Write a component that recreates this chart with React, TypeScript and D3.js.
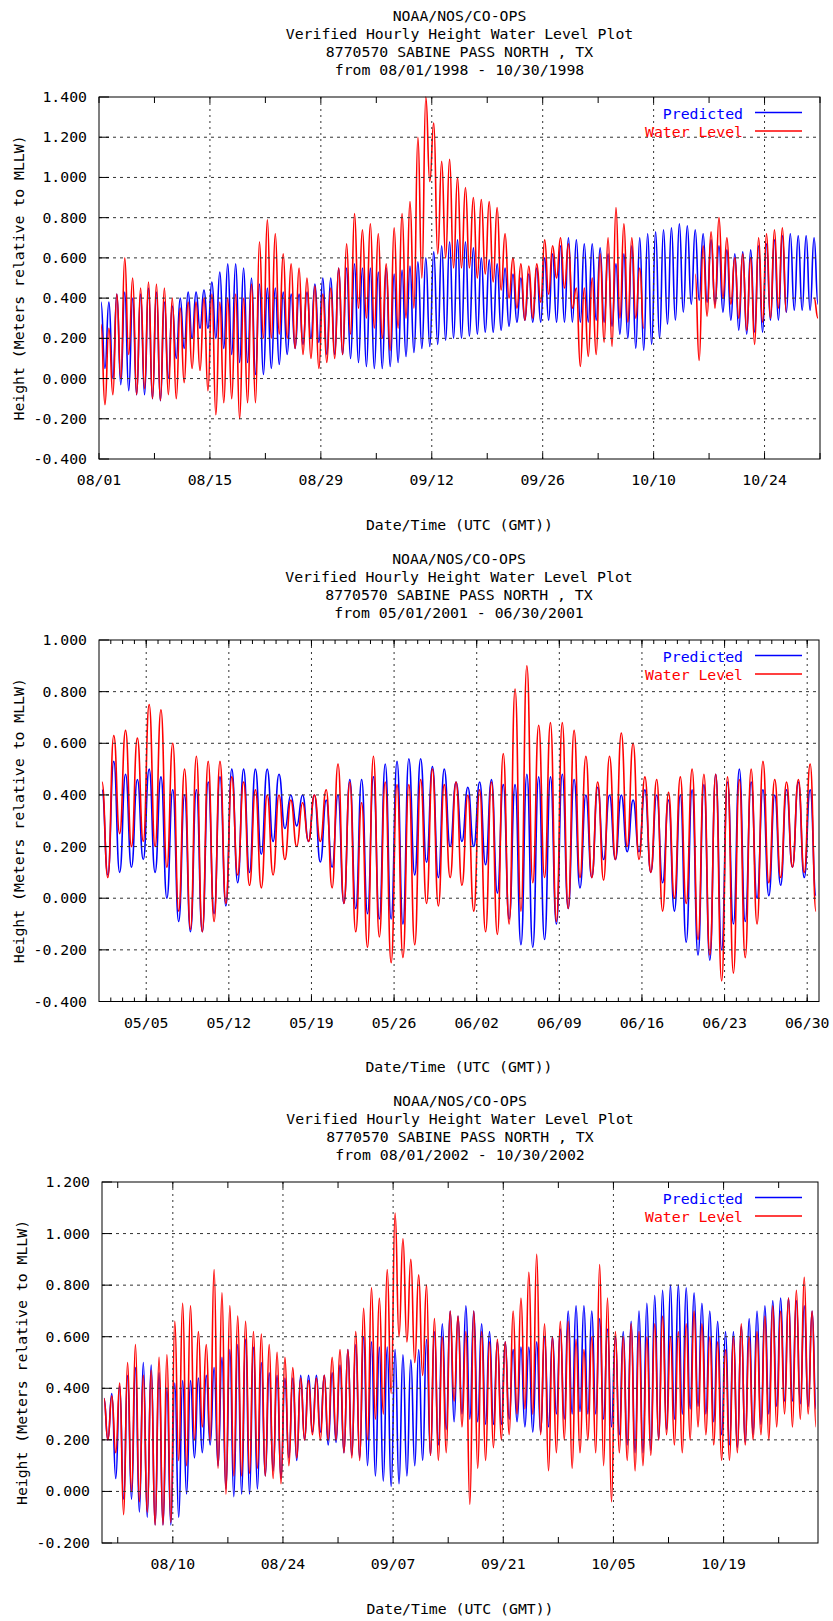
import React from "react";
import * as d3 from "d3";

const W = 833;
const H = 1621;
const FONT = "'DejaVu Sans Mono', 'Liberation Mono', monospace";
const FS = 14.8;
const BLUE = "#0000ff";
const RED = "#ff0000";

// ---------------- Chart 1 : 08/01/1998 - 10/30/1998 (daily high / low, meters) ----------------
const c1Dates = "from 08/01/1998 - 10/30/1998";
const p1Hi = [
  0.38, 0.38, 0.42, 0.43, 0.40, 0.42, 0.45, 0.43, 0.38, 0.36,
  0.40, 0.43, 0.43, 0.44, 0.48, 0.53, 0.57, 0.57, 0.55, 0.50,
  0.47, 0.45, 0.45, 0.43, 0.42, 0.42, 0.43, 0.47, 0.50, 0.50,
  0.55, 0.55, 0.57, 0.55, 0.55, 0.53, 0.55, 0.52, 0.54, 0.56,
  0.58, 0.60, 0.63, 0.66, 0.68, 0.69, 0.68, 0.65, 0.60, 0.59,
  0.57, 0.55, 0.52, 0.50, 0.52, 0.55, 0.60, 0.62, 0.66, 0.70,
  0.69, 0.67, 0.67, 0.65, 0.62, 0.57, 0.62, 0.66, 0.70, 0.72,
  0.73, 0.74, 0.75, 0.77, 0.76, 0.74, 0.72, 0.69, 0.66, 0.64,
  0.62, 0.63, 0.64, 0.66, 0.67, 0.69, 0.71, 0.72, 0.71, 0.71,
  0.70,
];
const p1Lo = [
  0.05, 0.00, -0.03, -0.06, -0.08, -0.08, -0.10, -0.11, 0.00, 0.10,
  0.15, 0.20, 0.25, 0.25, 0.20, 0.15, 0.12, 0.08, 0.08, 0.02,
  0.02, 0.05, 0.07, 0.12, 0.15, 0.17, 0.20, 0.18, 0.12, 0.12,
  0.12, 0.10, 0.08, 0.06, 0.05, 0.05, 0.06, 0.08, 0.11, 0.13,
  0.15, 0.16, 0.17, 0.19, 0.20, 0.20, 0.21, 0.22, 0.23, 0.23,
  0.24, 0.26, 0.28, 0.29, 0.28, 0.28, 0.29, 0.28, 0.28, 0.28,
  0.28, 0.28, 0.29, 0.28, 0.26, 0.22, 0.20, 0.15, 0.14, 0.17,
  0.20, 0.27, 0.29, 0.33, 0.37, 0.39, 0.38, 0.37, 0.33, 0.29,
  0.24, 0.22, 0.23, 0.23, 0.29, 0.29, 0.33, 0.34, 0.34, 0.34,
  0.37,
];
const w1Hi = [
  0.27, 0.25, 0.42, 0.60, 0.50, 0.45, 0.48, 0.47, 0.45, 0.40,
  0.35, 0.38, 0.38, 0.40, 0.42, 0.38, 0.40, 0.42, 0.40, 0.47,
  0.68, 0.79, 0.72, 0.62, 0.57, 0.55, 0.50, 0.46, 0.42, 0.45,
  0.55, 0.67, 0.82, 0.74, 0.77, 0.72, 0.57, 0.75, 0.82, 0.88,
  1.20, 1.40, 1.27, 1.08, 1.09, 1.00, 0.95, 0.90, 0.89, 0.88,
  0.85, 0.72, 0.60, 0.57, 0.56, 0.57, 0.69, 0.66, 0.70, 0.67,
  0.45, 0.45, 0.50, 0.62, 0.70, 0.85, 0.77, 0.70, 0.55, null,
  null, null, null, null, null, 0.52, 0.66, 0.73, 0.80, 0.70,
  0.60, 0.62, 0.60, 0.70, 0.72, 0.74, 0.75, null, null, null,
  0.40,
];
const w1Lo = [
  -0.13, -0.08, 0.00, 0.12, -0.08, -0.05, -0.10, -0.11, -0.08, -0.10,
  -0.02, 0.05, 0.04, -0.06, -0.18, -0.12, -0.10, -0.20, -0.12, -0.12,
  0.20, 0.20, 0.22, 0.20, 0.15, 0.12, 0.10, 0.05, 0.08, 0.10,
  0.12, 0.22, 0.35, 0.30, 0.25, 0.20, 0.14, 0.25, 0.30, 0.35,
  0.50, 0.98, 0.62, 0.60, 0.55, 0.55, 0.55, 0.50, 0.52, 0.48,
  0.44, 0.40, 0.35, 0.29, 0.30, 0.38, 0.42, 0.50, 0.45, 0.35,
  0.06, 0.11, 0.12, 0.18, 0.16, 0.30, 0.28, 0.30, 0.25, null,
  null, null, null, null, null, 0.09, 0.31, 0.35, 0.40, 0.37,
  0.30, 0.24, 0.17, 0.28, 0.30, 0.35, 0.33, null, null, null,
  0.30,
];

// ---------------- Chart 2 : 05/01/2001 - 06/30/2001 ----------------
const c2Dates = "from 05/01/2001 - 06/30/2001";
const p2Hi = [
  0.42, 0.53, 0.48, 0.46, 0.50, 0.47, 0.42, 0.40, 0.42, 0.45,
  0.47, 0.50, 0.50, 0.50, 0.50, 0.48, 0.40, 0.40, 0.40, 0.38,
  0.40, 0.46, 0.46, 0.47, 0.52, 0.53, 0.54, 0.54, 0.51, 0.50,
  0.45, 0.43, 0.45, 0.46, 0.44, 0.44, 0.48, 0.47, 0.47, 0.48,
  0.46, 0.40, 0.43, 0.40, 0.40, 0.38, 0.42, 0.40, 0.38, 0.40,
  0.42, 0.44, 0.48, 0.45, 0.50, 0.45, 0.42, 0.40, 0.42, 0.45,
  0.42,
];
const p2Lo = [
  0.09, 0.10, 0.12, 0.15, 0.10, 0.00, -0.09, -0.13, -0.13, -0.06,
  -0.03, 0.06, 0.10, 0.17, 0.22, 0.27, 0.28, 0.22, 0.14, 0.12,
  -0.02, -0.04, -0.06, -0.08, -0.08, -0.10, 0.09, 0.14, 0.08, 0.20,
  0.22, 0.20, 0.13, 0.02, -0.08, -0.18, -0.19, -0.16, -0.10, -0.04,
  0.04, 0.08, 0.15, 0.15, 0.18, 0.18, 0.10, 0.06, -0.05, -0.17,
  -0.22, -0.24, -0.20, -0.10, -0.09, 0.00, 0.01, 0.05, 0.12, 0.08,
  0.01,
];
const w2Hi = [
  0.45, 0.63, 0.65, 0.62, 0.75, 0.73, 0.60, 0.50, 0.55, 0.53,
  0.53, 0.47, 0.45, 0.42, 0.40, 0.40, 0.38, 0.37, 0.40, 0.42,
  0.52, 0.45, 0.37, 0.55, 0.45, 0.44, 0.44, 0.46, 0.50, 0.44,
  0.45, 0.40, 0.42, 0.45, 0.56, 0.81, 0.90, 0.67, 0.68, 0.68,
  0.65, 0.55, 0.45, 0.55, 0.64, 0.60, 0.47, 0.46, 0.41, 0.47,
  0.50, 0.48, 0.48, 0.47, 0.46, 0.50, 0.53, 0.46, 0.45, 0.46,
  0.52,
];
const w2Lo = [
  0.08, 0.25, 0.20, 0.22, 0.20, 0.12, -0.05, -0.12, -0.13, -0.09,
  -0.02, 0.09, 0.05, 0.04, 0.09, 0.15, 0.20, 0.22, 0.22, 0.04,
  -0.02, -0.13, -0.19, -0.15, -0.25, -0.23, -0.18, -0.02, -0.03, 0.08,
  0.05, -0.05, -0.13, -0.14, -0.10, -0.05, 0.06, 0.08, -0.09, -0.04,
  0.08, 0.08, 0.07, 0.15, 0.20, 0.15, 0.10, -0.05, 0.00, -0.02,
  -0.16, -0.22, -0.32, -0.29, -0.23, -0.10, 0.06, 0.08, 0.12, 0.10,
  -0.05,
];

// ---------------- Chart 3 : 08/01/2002 - 10/30/2002 ----------------
const c3Dates = "from 08/01/2002 - 10/30/2002";
const p3Hi = [
  0.36, 0.38, 0.41, 0.45, 0.48, 0.50, 0.49, 0.46, 0.40, 0.42,
  0.43, 0.43, 0.44, 0.45, 0.48, 0.52, 0.55, 0.57, 0.59, 0.56,
  0.50, 0.46, 0.45, 0.44, 0.44, 0.45, 0.45, 0.45, 0.45, 0.46,
  0.49, 0.55, 0.57, 0.60, 0.58, 0.56, 0.56, 0.55, 0.53, 0.51,
  0.55, 0.59, 0.62, 0.65, 0.70, 0.68, 0.72, 0.70, 0.65, 0.62,
  0.58, 0.58, 0.55, 0.56, 0.56, 0.58, 0.60, 0.60, 0.63, 0.70,
  0.72, 0.72, 0.70, 0.67, 0.63, 0.60, 0.62, 0.66, 0.70, 0.73,
  0.76, 0.78, 0.80, 0.80, 0.79, 0.77, 0.73, 0.70, 0.66, 0.62,
  0.62, 0.64, 0.67, 0.70, 0.72, 0.74, 0.75, 0.75, 0.74, 0.72,
  0.70,
];
const p3Lo = [
  0.20, 0.05, -0.03, -0.03, -0.08, -0.10, -0.13, -0.13, -0.13, -0.10,
  -0.01, 0.13, 0.15, 0.18, 0.10, 0.01, -0.02, -0.01, -0.01, 0.01,
  0.06, 0.08, 0.05, 0.13, 0.12, 0.20, 0.23, 0.23, 0.18, 0.19,
  0.15, 0.14, 0.13, 0.10, 0.06, 0.04, 0.02, 0.03, 0.06, 0.10,
  0.12, 0.14, 0.18, 0.24, 0.27, 0.30, 0.28, 0.27, 0.26, 0.26,
  0.26, 0.28, 0.27, 0.25, 0.23, 0.23, 0.25, 0.30, 0.28, 0.30,
  0.31, 0.30, 0.30, 0.28, 0.25, 0.22, 0.18, 0.15, 0.15, 0.16,
  0.20, 0.24, 0.28, 0.30, 0.32, 0.33, 0.30, 0.27, 0.22, 0.18,
  0.17, 0.19, 0.22, 0.26, 0.30, 0.33, 0.35, 0.35, 0.34, 0.33,
  0.32,
];
const w3Hi = [
  0.36, 0.37, 0.42, 0.50, 0.57, 0.45, 0.47, 0.52, 0.53, 0.66,
  0.73, 0.72, 0.62, 0.57, 0.86, 0.77, 0.72, 0.68, 0.66, 0.62,
  0.61, 0.57, 0.54, 0.52, 0.48, 0.44, 0.43, 0.44, 0.45, 0.52,
  0.55, 0.55, 0.62, 0.71, 0.79, 0.75, 0.86, 1.08, 0.98, 0.90,
  0.84, 0.80, 0.67, 0.60, 0.70, 0.68, 0.62, 0.70, 0.62, 0.58,
  0.59, 0.58, 0.70, 0.75, 0.85, 0.92, 0.65, 0.60, 0.66, 0.66,
  0.59, 0.55, 0.60, 0.88, 0.75, 0.62, 0.60, 0.65, 0.62, 0.60,
  0.65, 0.68, 0.60, 0.62, 0.65, 0.70, 0.65, 0.60, 0.58, 0.55,
  0.60, 0.65, 0.60, 0.62, 0.68, 0.72, 0.70, 0.75, 0.78, 0.83,
  0.70,
];
const w3Lo = [
  0.20, 0.15, -0.09, 0.00, -0.04, -0.08, -0.13, -0.13, -0.12, 0.12,
  0.10, 0.20, 0.25, 0.20, 0.09, -0.01, 0.06, 0.06, 0.07, 0.09,
  0.06, 0.05, 0.03, 0.10, 0.13, 0.20, 0.22, 0.20, 0.20, 0.20,
  0.15, 0.13, 0.12, 0.20, 0.28, 0.30, 0.38, 0.60, 0.58, 0.50,
  0.45, 0.14, 0.12, 0.15, 0.35, 0.25, -0.05, 0.09, 0.12, 0.17,
  0.20, 0.22, 0.30, 0.32, 0.30, 0.22, 0.08, 0.15, 0.20, 0.09,
  0.15, 0.20, 0.15, 0.10, -0.04, 0.15, 0.12, 0.08, 0.10, 0.14,
  0.20, 0.22, 0.18, 0.15, 0.20, 0.25, 0.22, 0.18, 0.12, 0.12,
  0.15, 0.18, 0.20, 0.22, 0.20, 0.25, 0.30, 0.25, 0.28, 0.30,
  0.25,
];

const titleLines = [
  "NOAA/NOS/CO-OPS",
  "Verified Hourly Height Water Level Plot",
  "8770570 SABINE PASS NORTH , TX",
];
const yTitle = "Height (Meters relative to MLLW)";
const xTitle = "Date/Time (UTC (GMT))";
const legendNames = ["Predicted", "Water Level"];

type Pt = { t: Date; v: number | null };

interface PanelCfg {
  id: string;
  dates: string;
  start: Date;
  days: number;
  yMin: number;
  yMax: number;
  left: number;
  right: number;
  top: number;
  bottom: number;
  labelStart: number;
  labelStep: number;
  tickStart: number;
  tickStep: number;
  minorDaily: boolean;
  pHi: (number | null)[];
  pLo: (number | null)[];
  wHi: (number | null)[];
  wLo: (number | null)[];
}

const panels: PanelCfg[] = [
  {
    id: "c1", dates: c1Dates, start: new Date(Date.UTC(1998, 7, 1)), days: 91,
    yMin: -0.4, yMax: 1.4, left: 99, right: 820, top: 97, bottom: 459,
    labelStart: 0, labelStep: 14, tickStart: 0, tickStep: 7, minorDaily: false,
    pHi: p1Hi, pLo: p1Lo, wHi: w1Hi, wLo: w1Lo,
  },
  {
    id: "c2", dates: c2Dates, start: new Date(Date.UTC(2001, 4, 1)), days: 61,
    yMin: -0.4, yMax: 1.0, left: 99, right: 819, top: 640, bottom: 1001.5,
    labelStart: 4, labelStep: 7, tickStart: 4, tickStep: 7, minorDaily: true,
    pHi: p2Hi, pLo: p2Lo, wHi: w2Hi, wLo: w2Lo,
  },
  {
    id: "c3", dates: c3Dates, start: new Date(Date.UTC(2002, 7, 1)), days: 91,
    yMin: -0.2, yMax: 1.2, left: 102, right: 818, top: 1182, bottom: 1543,
    labelStart: 9, labelStep: 14, tickStart: 2, tickStep: 7, minorDaily: false,
    pHi: p3Hi, pLo: p3Lo, wHi: w3Hi, wLo: w3Lo,
  },
];

function buildPoints(start: Date, hi: (number | null)[], lo: (number | null)[]): Pt[] {
  const pts: Pt[] = [];
  hi.forEach((h, i) => {
    pts.push({ t: d3.utcHour.offset(start, i * 24 + 6), v: h });
    pts.push({ t: d3.utcHour.offset(start, i * 24 + 18), v: lo[i] });
  });
  return pts;
}

const fmtDate = d3.utcFormat("%m/%d");
const fmtY = (v: number) => {
  const r = Math.round(v * 1000) / 1000;
  return (Math.abs(r) < 1e-9 ? 0 : r).toFixed(3);
};

function Panel({ p }: { p: PanelCfg }) {
  const end = d3.utcDay.offset(p.start, p.days);
  const x = d3.scaleUtc().domain([p.start, end]).range([p.left, p.right]);
  const y = d3.scaleLinear().domain([p.yMin, p.yMax]).range([p.bottom, p.top]);
  const line = d3
    .line<Pt>()
    .defined((d) => d.v != null)
    .curve(d3.curveBumpX)
    .x((d) => x(d.t))
    .y((d) => y(d.v as number));

  const nY = Math.round((p.yMax - p.yMin) / 0.2);
  const yTicks = d3.range(nY + 1).map((i) => Math.round((p.yMin + i * 0.2) * 1000) / 1000);

  const labelDays = d3.range(p.labelStart, p.days + 0.001, p.labelStep);
  const tickDays = d3.range(p.tickStart, p.days + 0.001, p.tickStep);
  const minorDays = p.minorDaily ? d3.range(1, p.days) : [];

  const cx = (p.left + p.right) / 2;
  const cy = (p.top + p.bottom) / 2;
  const pPts = buildPoints(p.start, p.pHi, p.pLo);
  const wPts = buildPoints(p.start, p.wHi, p.wLo);
  const dx = (day: number) => x(d3.utcDay.offset(p.start, day));

  const textStyle = { fontFamily: FONT, fontSize: FS, fill: "#000" } as const;

  return (
    <g>
      <defs>
        <clipPath id={`clip-${p.id}`}>
          <rect x={p.left} y={p.top - 1} width={p.right - p.left} height={p.bottom - p.top + 2} />
        </clipPath>
      </defs>
      {[...titleLines, p.dates].map((s, i) => (
        <text key={i} x={cx} y={p.top - 76 + i * 18} textAnchor="middle" style={textStyle}>
          {s}
        </text>
      ))}
      <g clipPath={`url(#clip-${p.id})`}>
        <path d={line(pPts) || ""} fill="none" stroke={BLUE} strokeWidth={1.6} />
        <path d={line(wPts) || ""} fill="none" stroke={RED} strokeWidth={1.6} />
      </g>
      {yTicks
        .filter((v) => v > p.yMin + 1e-6 && v < p.yMax - 1e-6)
        .map((v) => (
          <line key={`gy${v}`} x1={p.left} x2={p.right} y1={y(v)} y2={y(v)}
            stroke="#333" strokeWidth={1} strokeDasharray="3,4" />
        ))}
      {labelDays
        .filter((d) => d > 0 && d < p.days)
        .map((d) => (
          <line key={`gx${d}`} x1={dx(d)} x2={dx(d)} y1={p.top} y2={p.bottom}
            stroke="#333" strokeWidth={1} strokeDasharray="2,4" />
        ))}
      {yTicks.map((v) => (
        <g key={`yt${v}`}>
          <line x1={p.left} x2={p.left + 10} y1={y(v)} y2={y(v)} stroke="#000" strokeWidth={1} />
          <text x={p.left - 12} y={y(v) + 5} textAnchor="end" style={textStyle}>
            {fmtY(v)}
          </text>
        </g>
      ))}
      {tickDays.map((d) => (
        <g key={`xt${d}`}>
          <line x1={dx(d)} x2={dx(d)} y1={p.bottom} y2={p.bottom - 6} stroke="#000" />
          <line x1={dx(d)} x2={dx(d)} y1={p.top} y2={p.top + 6} stroke="#000" />
        </g>
      ))}
      {minorDays.map((d) => (
        <g key={`xm${d}`}>
          <line x1={dx(d)} x2={dx(d)} y1={p.bottom} y2={p.bottom - 4} stroke="#000" />
          <line x1={dx(d)} x2={dx(d)} y1={p.top} y2={p.top + 4} stroke="#000" />
        </g>
      ))}
      {labelDays.map((d) => (
        <text key={`xl${d}`} x={dx(d)} y={p.bottom + 26} textAnchor="middle" style={textStyle}>
          {fmtDate(d3.utcDay.offset(p.start, d))}
        </text>
      ))}
      <rect x={p.left} y={p.top} width={p.right - p.left} height={p.bottom - p.top}
        fill="none" stroke="#000" strokeWidth={1} />
      <text x={cx} y={p.bottom + 70.5} textAnchor="middle" style={textStyle}>
        {xTitle}
      </text>
      <text transform={`translate(${p.left - 75},${cy}) rotate(-90)`} textAnchor="middle" style={textStyle}>
        {yTitle}
      </text>
      {legendNames.map((name, i) => {
        const col = i === 0 ? BLUE : RED;
        const by = p.top + 21.5 + i * 18.5;
        return (
          <g key={name}>
            <text x={743} y={by} textAnchor="end" style={{ ...textStyle, fill: col }}>
              {name}
            </text>
            <line x1={755} x2={802} y1={by - 6} y2={by - 6} stroke={col} strokeWidth={1.3} />
          </g>
        );
      })}
    </g>
  );
}

export default function App() {
  return (
    <svg
      width={W}
      height={H}
      viewBox={`0 0 ${W} ${H}`}
      style={{ position: "absolute", left: 0, top: 0, background: "#fff", display: "block" }}
    >
      <rect x={0} y={0} width={W} height={H} fill="#fff" />
      {panels.map((p) => (
        <Panel key={p.id} p={p} />
      ))}
    </svg>
  );
}
